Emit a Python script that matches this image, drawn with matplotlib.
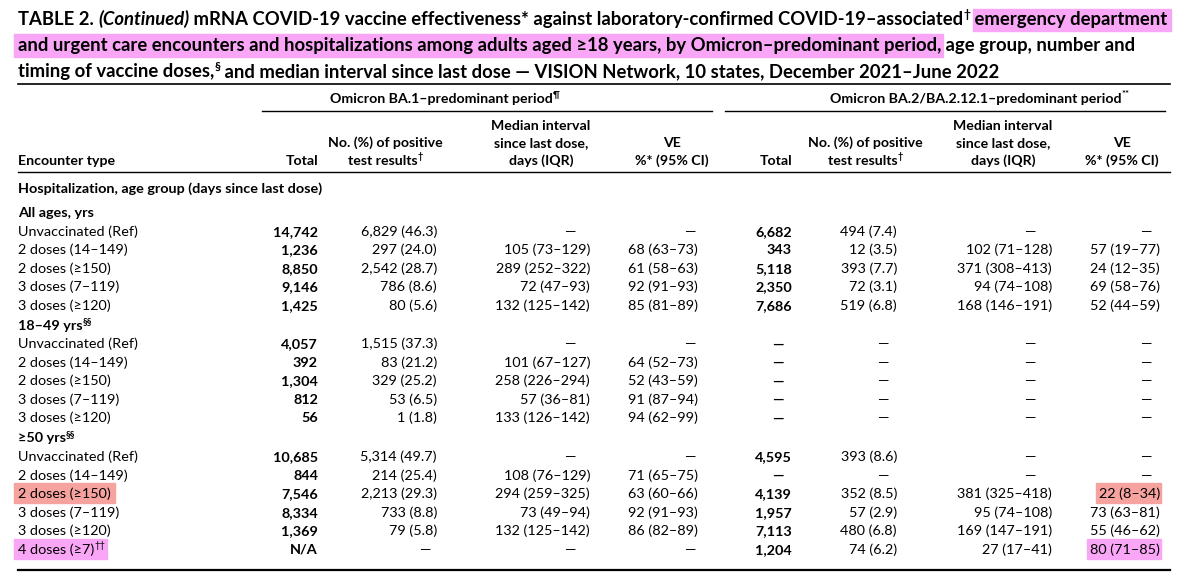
import matplotlib
matplotlib.use("Agg")
import matplotlib.pyplot as plt
from matplotlib.transforms import IdentityTransform
from matplotlib.patches import Rectangle

W, H = 1200, 578
FONT = "Lato"

# ---- data ----
left_rows = {
    "All ages, yrs": [
        ("Unvaccinated (Ref)", "14,742", "6,829 (46.3)", "—", "—"),
        ("2 doses (14–149)", "1,236", "297 (24.0)", "105 (73–129)", "68 (63–73)"),
        ("2 doses (≥150)", "8,850", "2,542 (28.7)", "289 (252–322)", "61 (58–63)"),
        ("3 doses (7–119)", "9,146", "786 (8.6)", "72 (47–93)", "92 (91–93)"),
        ("3 doses (≥120)", "1,425", "80 (5.6)", "132 (125–142)", "85 (81–89)"),
    ],
    "18–49 yrs": [
        ("Unvaccinated (Ref)", "4,057", "1,515 (37.3)", "—", "—"),
        ("2 doses (14–149)", "392", "83 (21.2)", "101 (67–127)", "64 (52–73)"),
        ("2 doses (≥150)", "1,304", "329 (25.2)", "258 (226–294)", "52 (43–59)"),
        ("3 doses (7–119)", "812", "53 (6.5)", "57 (36–81)", "91 (87–94)"),
        ("3 doses (≥120)", "56", "1 (1.8)", "133 (126–142)", "94 (62–99)"),
    ],
    "≥50 yrs": [
        ("Unvaccinated (Ref)", "10,685", "5,314 (49.7)", "—", "—"),
        ("2 doses (14–149)", "844", "214 (25.4)", "108 (76–129)", "71 (65–75)"),
        ("2 doses (≥150)", "7,546", "2,213 (29.3)", "294 (259–325)", "63 (60–66)"),
        ("3 doses (7–119)", "8,334", "733 (8.8)", "73 (49–94)", "92 (91–93)"),
        ("3 doses (≥120)", "1,369", "79 (5.8)", "132 (125–142)", "86 (82–89)"),
        ("4 doses (≥7)", "N/A", "—", "—", "—"),
    ],
}
right_rows = {
    "All ages, yrs": [
        ("6,682", "494 (7.4)", "—", "—"),
        ("343", "12 (3.5)", "102 (71–128)", "57 (19–77)"),
        ("5,118", "393 (7.7)", "371 (308–413)", "24 (12–35)"),
        ("2,350", "72 (3.1)", "94 (74–108)", "69 (58–76)"),
        ("7,686", "519 (6.8)", "168 (146–191)", "52 (44–59)"),
    ],
    "18–49 yrs": [("—", "—", "—", "—")] * 5,
    "≥50 yrs": [
        ("4,595", "393 (8.6)", "—", "—"),
        ("—", "—", "—", "—"),
        ("4,139", "352 (8.5)", "381 (325–418)", "22 (8–34)"),
        ("1,957", "57 (2.9)", "95 (74–108)", "73 (63–81)"),
        ("7,113", "480 (6.8)", "169 (147–191)", "55 (46–62)"),
        ("1,204", "74 (6.2)", "27 (17–41)", "80 (71–85)"),
    ],
}
group_sup = {"All ages, yrs": "", "18–49 yrs": "§§", "≥50 yrs": "§§"}

fig = plt.figure(figsize=(W / 100, H / 100), dpi=100)
renderer = fig.canvas.get_renderer()
T = IdentityTransform()

PINK = "#f9a6f6"
SALMON = "#f6a3a0"


def txt(x, y, s, size=10, weight="normal", ha="left", style="normal"):
    return fig.text(x, H - y, s, transform=T, fontsize=size, fontweight=weight,
                    fontstyle=style, ha=ha, va="baseline", family=FONT)


def runs(x, y, parts, size=10, ha="left"):
    # parts: (text, weight, style, sup)
    objs = []
    for s, wt, st, sup in parts:
        sz = size * 0.65 if sup else size
        objs.append((txt(0, y - (size * 0.55 if sup else 0), s, sz, wt, style=st), sup))
    widths = [o.get_window_extent(renderer).width for o, _ in objs]
    total = sum(widths)
    cx = x - total / 2 if ha == "center" else (x - total if ha == "right" else x)
    spans = []
    for (o, _), w in zip(objs, widths):
        o.set_x(cx)
        spans.append((cx, cx + w))
        cx += w
    return spans


def box(x0, x1, y0, y1, color):
    fig.patches.append(Rectangle((x0, H - y1), x1 - x0, y1 - y0, transform=T,
                                 color=color, zorder=-1))


def hline(x0, x1, y, lw=1.0):
    fig.add_artist(plt.Line2D([x0, x1], [H - y, H - y], transform=T,
                              color="black", lw=lw))


# ---- title ----
TS = 13.3
B = "bold"
sp = runs(18, 25, [("TABLE 2. ", B, "normal", False), ("(Continued)", B, "italic", False),
                   (" mRNA COVID-19 vaccine effectiveness* against laboratory-confirmed COVID-19–associated", B, "normal", False),
                   ("†", B, "normal", True), (" emergency department", B, "normal", False)], TS)
box(sp[-1][0] + 3, sp[-1][1] + 3, 9, 31, PINK)
sp = runs(18, 51, [("and urgent care encounters and hospitalizations among adults aged ≥18 years, by Omicron–predominant period,", B, "normal", False),
                   (" age group, number and", B, "normal", False)], TS)
box(14, sp[0][1] + 2, 34, 57, PINK)
runs(18, 77, [("timing of vaccine doses,", B, "normal", False), ("§", B, "normal", True),
              (" and median interval since last dose — VISION Network, 10 states, December 2021–June 2022", B, "normal", False)], TS)

hline(18, 1170, 84, 1.2)

# ---- header ----
HS = 10.2
runs(445, 103, [("Omicron BA.1–predominant period", B, "normal", False), ("¶", B, "normal", True)], HS, "center")
runs(980, 103, [("Omicron BA.2/BA.2.12.1–predominant period", B, "normal", False), ("**", B, "normal", True)], HS, "center")
hline(262, 712, 111)
hline(725, 1165, 111)

txt(18, 165, "Encounter type", HS, B)
cols = [
    # (x_total, x_no_center, x_med_center, x_ve_center)
    (318, 385, 541, 672),
    (792, 865, 1003, 1122),
]
for xt, xn, xm, xv in cols:
    txt(xt, 165, "Total", HS, B, "right")
    txt(xn, 147, "No. (%) of positive", HS, B, "center")
    runs(xn, 165, [("test results", B, "normal", False), ("†", B, "normal", True)], HS, "center")
    txt(xm, 130, "Median interval", HS, B, "center")
    txt(xm, 147, "since last dose,", HS, B, "center")
    txt(xm, 165, "days (IQR)", HS, B, "center")
    txt(xv, 147, "VE", HS, B, "center")
    txt(xv, 165, "%* (95% CI)", HS, B, "center")
hline(18, 1170, 172)

# ---- body ----
BS = 10.4
# right edges and dash centres for each numeric column
left_right = [318, 437, 590, 698]
left_dash = [300, 425, 570, 690]
right_right = [792, 897, 1052, 1160]
right_dash = [778, 883, 1030, 1146]

txt(18, 193, "Hospitalization, age group (days since last dose)", BS, B)
y = 217
for g in left_rows:
    runs(18, y, [(g, B, "normal", False), (group_sup[g], B, "normal", True)], BS)
    y += 18.7
    for lrow, rrow in zip(left_rows[g], right_rows[g]):
        label = lrow[0]
        if label == "4 doses (≥7)":
            sp = runs(18, y, [(label, "normal", "normal", False), ("††", "normal", "normal", True)], BS)
            box(14, sp[-1][1] + 2, y - 15, y + 5, PINK)
        else:
            sp = runs(18, y, [(label, "normal", "normal", False)], BS)
            if g == "≥50 yrs" and label == "2 doses (≥150)":
                box(14, sp[-1][1] + 4, y - 15, y + 5, SALMON)
        for vals, rights, dashes in ((lrow[1:], left_right, left_dash),
                                     (rrow, right_right, right_dash)):
            for i, v in enumerate(vals):
                wt = B if i == 0 else "normal"
                if v == "—":
                    txt(dashes[i], y, v, BS, wt, "center")
                else:
                    t = txt(rights[i], y, v, BS, wt, "right")
                    if vals is rrow and i == 3 and g == "≥50 yrs":
                        bb = t.get_window_extent(renderer)
                        if v == "22 (8–34)":
                            box(bb.x0 - 3, bb.x1 + 1, y - 15, y + 5, SALMON)
                        if v == "80 (71–85)":
                            box(bb.x0 - 3, bb.x1 + 1, y - 15, y + 5, PINK)
        y += 18.5
    y += 1.5

hline(18, 1170, 570, 1.6)

fig.savefig("out.png", dpi=100)
